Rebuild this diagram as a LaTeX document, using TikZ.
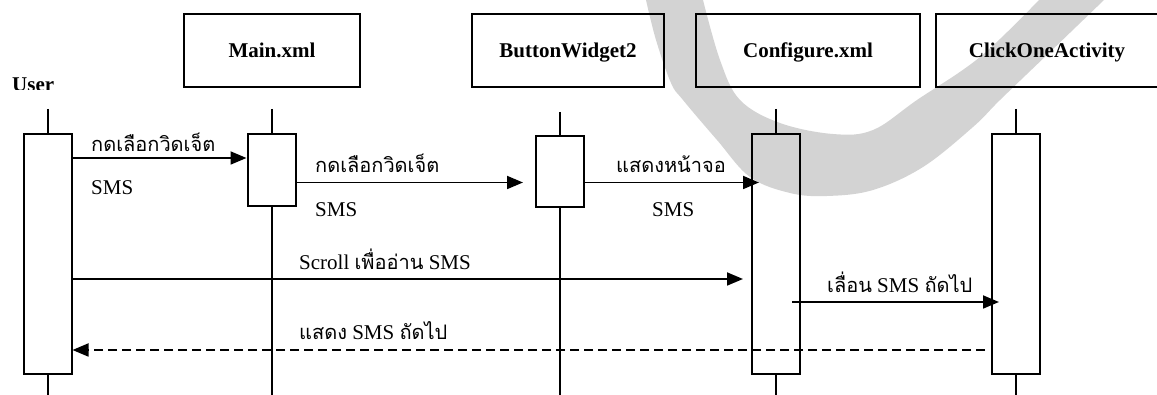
\documentclass[tikz,border=0pt]{standalone}
\usepackage{fontspec}
\setmainfont{Liberation Serif}
\newfontfamily\thaifont[Script=Thai]{Loma}
\usetikzlibrary{arrows.meta}
\definecolor{swoosh}{RGB}{211,211,211}
\newcommand{\thtxt}[1]{{\thaifont\fontsize{20}{23}\selectfont #1}}

\tikzset{
  hdr/.style={draw, line width=2pt, minimum height=73pt, inner sep=0pt,
    text height=13.8pt, text depth=0pt,
    font=\fontsize{21}{24}\selectfont\bfseries},
  act/.style={draw, line width=2pt, minimum width=48pt, inner sep=0pt},
  life/.style={line width=2pt},
  msg/.style={line width=1.8pt, -{Triangle[length=16pt,width=13pt]}},
  reply/.style={msg, dash pattern=on 9pt off 5pt},
  lbl/.style={inner sep=0pt, anchor=base west, font=\fontsize{21}{24}\selectfont},
}

\begin{document}
\begin{tikzpicture}[x=1pt,y=-1pt]
\useasboundingbox (0,0) rectangle (1157,395);
\clip (0,0) rectangle (1157,395);

% grey swoosh behind the diagram
\fill[swoosh] plot[smooth, tension=0.6] coordinates {(646,0) (656,40) (671,83) (683,100)
    (717,140) (750,177) (790,193) (827,196) (873,190) (923,167) (973,127) (1000,100)
    (1050,52) (1104,0)}
  -- plot[smooth, tension=0.6] coordinates {(1039,0) (980,57) (917,100) (873,130)
    (833,134) (780,123) (740,100) (720,60) (703,0)} -- cycle;

% participant headers
\node[hdr, minimum width=176pt] (main) at (272,50.5) {Main.xml};
\node[hdr, minimum width=192pt] (btn)  at (568,50.5) {ButtonWidget2};
\node[hdr, minimum width=224pt] (conf) at (808,50.5) {Configure.xml};
\node[hdr, minimum width=222pt] (click) at (1047,50.5) {ClickOneActivity};
\begin{scope}
  \clip (0,0) rectangle (100,90);
  \node[lbl, font=\fontsize{21}{24}\selectfont\bfseries] (user) at (12,91.5) {User};
\end{scope}

% activation bars
\node[act, minimum height=240pt] (uact) at (47.5,254) {};
\node[act, minimum height=72pt]  (mact) at (271.5,170) {};
\node[act, minimum height=71pt]  (bact) at (560,171.5) {};
\node[act, minimum height=240pt] (cact) at (776,254) {};
\node[act, minimum height=240pt] (kact) at (1016,254) {};

% lifelines
\coordinate (ut) at (47.5,109); \coordinate (ub) at (47.5,396);
\coordinate (mt) at (271.5,109); \coordinate (mb) at (271.5,396);
\coordinate (bt) at (560,112);  \coordinate (bb) at (560,396);
\coordinate (ct) at (776,109);  \coordinate (cb) at (776,396);
\coordinate (kt) at (1016,109); \coordinate (kb) at (1016,396);
\draw[life] (ut) -- (uact.north);  \draw[life] (uact.south) -- (ub);
\draw[life] (mt) -- (mact.north);  \draw[life] (mact.south) -- (mb);
\draw[life] (bt) -- (bact.north);  \draw[life] (bact.south) -- (bb);
\draw[life] (ct) -- (cact.north);  \draw[life] (cact.south) -- (cb);
\draw[life] (kt) -- (kact.north);  \draw[life] (kact.south) -- (kb);

% message rows
\coordinate (r1) at (0,158);
\coordinate (r2) at (0,182.5);
\coordinate (r4) at (0,279);
\coordinate (r6) at (0,350);
\coordinate (m2tip) at (523,182.5);
\coordinate (m3tip) at (759,182.5);
\coordinate (m4tip) at (743,279);
\coordinate (m5start) at (792,302);
\coordinate (m5tip) at (999,302);
\coordinate (m6start) at (985,350);

% messages
\draw[msg] (uact.east |- r1) -- (mact.west |- r1);
\draw[msg] (mact.east |- r2) -- (m2tip);
\draw[msg] (bact.east |- r2) -- (m3tip);
\draw[msg] (uact.east |- r4) -- (m4tip);
\draw[msg] (m5start) -- (m5tip);
\draw[reply] (m6start) -- (uact.east |- r6);

% message labels
\node[lbl] (l1)  at (91,152)  {\thtxt{กดเลือกวิดเจ็ต}};
\node[lbl] (l1b) at (91,195)  {SMS};
\node[lbl] (l2)  at (315,173) {\thtxt{กดเลือกวิดเจ็ต}};
\node[lbl] (l2b) at (315,217) {SMS};
\node[lbl] (l3)  at (616,173) {\thtxt{แสดงหน้าจอ}};
\node[lbl] (l3b) at (652,217) {SMS};
\node[lbl] (l4)  at (299,270) {Scroll \thtxt{เพื่ออ่าน} SMS};
\node[lbl] (l5)  at (827,293) {\thtxt{เลื่อน} SMS \thtxt{ถัดไป}};
\node[lbl] (l6)  at (299,340) {\thtxt{แสดง} SMS \thtxt{ถัดไป}};
\end{tikzpicture}
\end{document}
